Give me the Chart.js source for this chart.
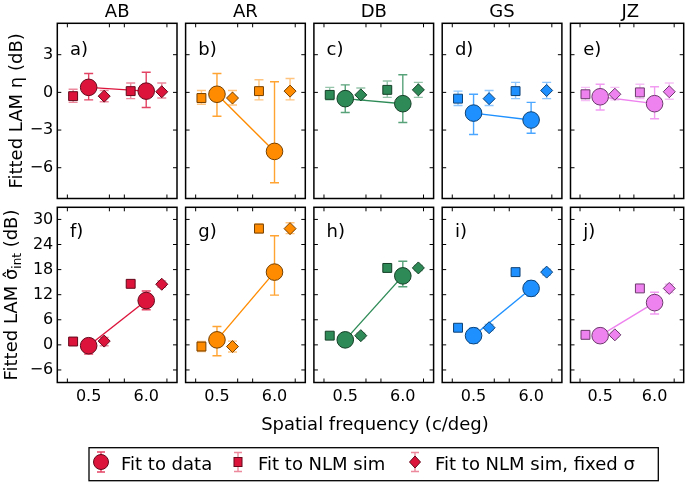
<!DOCTYPE html>
<html><head><meta charset="utf-8">
<script src="https://cdn.jsdelivr.net/npm/chart.js@4"></script>
<style>
html,body{margin:0;padding:0;background:#fff;}
#wrap{position:relative;width:693px;height:484px;overflow:hidden;background:#fff;}
#wrap canvas{position:absolute;left:0;top:0;}
#ov{position:absolute;left:0;top:0;z-index:10;font-family:'DejaVu Sans';}
</style></head><body>
<div id="wrap"><svg id="ov" width="693" height="484" xmlns="http://www.w3.org/2000/svg"></svg></div>
<script>
// ---------- data ----------
const subjects = ['AB','AR','DB','GS','JZ'];
const panelLetters = [['a)','b)','c)','d)','e)'],['f)','g)','h)','i)','j)']];
const freqLabels = ['0.5','6.0'];
const etaTicks = [-6,-3,0,3];
const sigTicks = [-6,0,6,12,18,24,30];
const legendLabels = ['Fit to data','Fit to NLM sim','Fit to NLM sim, fixed \u03c3'];

// eta (dB): circles = fit to data
const etaFit   = [[0.4,0.1],[-0.15,-4.7],[-0.5,-0.9],[-1.65,-2.2],[-0.35,-0.9]];
const etaFitLo = [[-0.6,-1.2],[-1.9,-7.2],[-1.6,-2.4],[-3.35,-3.25],[-1.4,-2.1]];
const etaFitHi = [[1.5,1.6],[1.5,0.85],[0.6,1.4],[-0.15,-0.8],[0.65,0.45]];
// squares = fit to NLM sim
const etaNlm   = [[-0.3,0.1],[-0.45,0.1],[-0.2,0.2],[-0.5,0.1],[-0.15,0.0]];
const etaNlmLo = [[-0.8,-0.5],[-0.95,-0.6],[-0.6,-0.4],[-1.05,-0.5],[-0.65,-0.5]];
const etaNlmHi = [[0.25,0.75],[0.15,1.0],[0.4,0.9],[0.1,0.8],[0.4,0.65]];
// diamonds = fit to NLM sim, fixed sigma
const etaFix   = [[-0.3,0.05],[-0.45,0.1],[-0.2,0.2],[-0.5,0.15],[-0.15,0.05]];
const etaFixLo = [[-0.75,-0.45],[-1.0,-0.6],[-0.6,-0.4],[-1.05,-0.5],[-0.6,-0.55]];
const etaFixHi = [[0.15,0.75],[0.15,1.1],[0.35,0.8],[0.15,0.8],[0.4,0.75]];

// sigma_int (dB)
const sigFit   = [[-0.2,10.6],[1.2,17.4],[1.2,16.5],[2.2,13.5],[2.2,10.1]];
const sigFitLo = [[-2.2,8.4],[-2.6,11.9],[0.2,13.9],[0.4,11.7],[0.6,7.4]];
const sigFitHi = [[1.4,12.9],[4.4,26.1],[2.2,20.0],[4.0,15.3],[3.2,12.6]];
const sigNlm   = [[0.8,14.6],[-0.4,27.8],[2.2,18.4],[4.1,17.4],[2.4,13.5]];
const sigNlmLo = [[0.2,14.0],[-1.6,26.8],[1.6,17.8],[3.3,16.8],[1.8,12.9]];
const sigNlmHi = [[1.4,15.2],[0.8,29.0],[2.8,19.0],[4.9,18.0],[3.0,14.1]];
const sigFix   = [[0.9,14.5],[-0.4,27.8],[2.2,18.4],[4.1,17.4],[2.4,13.5]];
const sigFixLo = [[-0.2,13.8],[-1.7,26.6],[1.5,17.8],[3.4,16.7],[1.8,12.5]];
const sigFixHi = [[1.8,15.3],[0.9,29.2],[2.8,19.0],[4.9,18.1],[3.0,14.5]];

// ---------- styling / layout ----------
const colors = ['#DC143C','#FF8C00','#2E8B57','#1E90FF','#EE82EE'];
const W = 693, H = 484;
const colLeft = c => 57.3 + 128.3 * c;
const panelW = 119.7;
const rowTop = [23.3, 207.3], rowBottom = [198.5, 382.5];
const yRange = [[-8.45, 5.5], [-9, 32.9]];
const xMin = -0.545, xMax = 1.535, xOff = 0.27;
const xMinorTicks = [-0.37, 0.36, 0.62, 1.36];
const FONT = "'DejaVu Sans'";
Chart.defaults.font.family = FONT;

function rgba(hex, a) {
  const n = parseInt(hex.slice(1), 16);
  return `rgba(${(n>>16)&255},${(n>>8)&255},${n&255},${a})`;
}
function darken(hex, f) {
  const n = parseInt(hex.slice(1), 16);
  return `rgb(${Math.round(((n>>16)&255)*f)},${Math.round(((n>>8)&255)*f)},${Math.round((n&255)*f)})`;
}
const minus = v => (v < 0 ? '\u2212' + Math.abs(v) : String(v));

const errorBarPlugin = {
  id: 'errbars',
  beforeDatasetsDraw(chart) {
    const ctx = chart.ctx, xs = chart.scales.x, ys = chart.scales.y;
    chart.data.datasets.forEach(ds => {
      if (!ds.errLo) return;
      ctx.save();
      ctx.strokeStyle = ds.errColor;
      ctx.lineWidth = 1.4;
      const cap = 4.5;
      ds.data.forEach((p, i) => {
        const x = xs.getPixelForValue(p.x);
        const y1 = ys.getPixelForValue(ds.errLo[i]);
        const y2 = ys.getPixelForValue(ds.errHi[i]);
        ctx.beginPath();
        ctx.moveTo(x, y1); ctx.lineTo(x, y2);
        ctx.moveTo(x - cap, y1); ctx.lineTo(x + cap, y1);
        ctx.moveTo(x - cap, y2); ctx.lineTo(x + cap, y2);
        ctx.stroke();
      });
      ctx.restore();
    });
  }
};

const framePlugin = {
  id: 'frame',
  afterDraw(chart) {
    const ctx = chart.ctx, a = chart.chartArea, xs = chart.scales.x, ys = chart.scales.y;
    const tl = 4;
    ctx.save();
    ctx.strokeStyle = '#000';
    ctx.lineWidth = 1;
    ctx.beginPath();
    chart.options.yTickVals.forEach(v => {
      const y = ys.getPixelForValue(v);
      ctx.moveTo(a.left, y); ctx.lineTo(a.left + tl, y);
      ctx.moveTo(a.right, y); ctx.lineTo(a.right - tl, y);
    });
    xMinorTicks.forEach(v => {
      const x = xs.getPixelForValue(v);
      ctx.moveTo(x, a.top); ctx.lineTo(x, a.top + tl);
      ctx.moveTo(x, a.bottom); ctx.lineTo(x, a.bottom - tl);
    });
    ctx.stroke();
    ctx.lineWidth = 1.5;
    ctx.strokeRect(a.left, a.top, a.right - a.left, a.bottom - a.top);
    ctx.restore();
  }
};

const wrap = document.getElementById('wrap');
const rows = [
  {fit: etaFit, fitLo: etaFitLo, fitHi: etaFitHi, nlm: etaNlm, nlmLo: etaNlmLo, nlmHi: etaNlmHi, fix: etaFix, fixLo: etaFixLo, fixHi: etaFixHi, ticks: etaTicks},
  {fit: sigFit, fitLo: sigFitLo, fitHi: sigFitHi, nlm: sigNlm, nlmLo: sigNlmLo, nlmHi: sigNlmHi, fix: sigFix, fixLo: sigFixLo, fixHi: sigFixHi, ticks: sigTicks}
];
const yAxisW = 30, xAxisH = 25;

rows.forEach((R, r) => {
  subjects.forEach((s, c) => {
    const cv = document.createElement('canvas');
    cv.width = W; cv.height = H;
    cv.style.width = W + 'px'; cv.style.height = H + 'px';
    wrap.insertBefore(cv, wrap.firstChild);
    const col = colors[c];
    const edge = darken(col, 0.45);
    const left = colLeft(c), right = left + panelW;
    const showY = c === 0, showX = r === 1;
    const pad = {
      left: left - (showY ? yAxisW : 0),
      right: W - right,
      top: rowTop[r],
      bottom: H - rowBottom[r] - (showX ? xAxisH : 0)
    };
    const pts = (arr, off) => arr[c].map((v, i) => ({x: i + off, y: v}));
    new Chart(cv, {
      type: 'scatter',
      data: {datasets: [
        {label: legendLabels[1], data: pts(R.nlm, -xOff), pointStyle: 'rect', pointRadius: 6.3,
          pointBackgroundColor: col, pointBorderColor: edge, pointBorderWidth: 1, showLine: false,
          errLo: R.nlmLo[c], errHi: R.nlmHi[c], errColor: rgba(col, 0.5)},
        {label: legendLabels[2], data: pts(R.fix, xOff), pointStyle: 'rectRot', pointRadius: 6,
          pointBackgroundColor: col, pointBorderColor: edge, pointBorderWidth: 1, showLine: false,
          errLo: R.fixLo[c], errHi: R.fixHi[c], errColor: rgba(col, 0.5)},
        {label: legendLabels[0], data: pts(R.fit, 0), pointStyle: 'circle', pointRadius: 8.3,
          pointBackgroundColor: col, pointBorderColor: edge, pointBorderWidth: 1,
          showLine: true, borderColor: col, borderWidth: 1.4,
          errLo: R.fitLo[c], errHi: R.fitHi[c], errColor: rgba(col, 0.8)}
      ]},
      options: {
        responsive: false, animation: false, events: [], devicePixelRatio: 1,
        yTickVals: R.ticks,
        layout: {padding: pad},
        plugins: {legend: {display: false}, tooltip: {enabled: false}},
        scales: {
          x: {type: 'linear', min: xMin, max: xMax, display: showX,
            afterFit: sc => { sc.height = showX ? xAxisH : 0; },
            afterBuildTicks: sc => { sc.ticks = freqLabels.map((_, i) => ({value: i})); },
            ticks: {callback: v => freqLabels[Math.round(v)], font: {size: 16}, color: '#000',
              padding: 5, maxRotation: 0, autoSkip: false},
            grid: {display: false, drawTicks: false}, border: {display: false}},
          y: {type: 'linear', min: yRange[r][0], max: yRange[r][1], display: showY,
            afterFit: sc => { sc.width = showY ? yAxisW : 0; },
            afterBuildTicks: sc => { sc.ticks = R.ticks.map(v => ({value: v})); },
            ticks: {callback: v => minus(v), font: {size: 16}, color: '#000', padding: 4, autoSkip: false},
            grid: {display: false, drawTicks: false}, border: {display: false}}
        }
      },
      plugins: [errorBarPlugin, framePlugin]
    });
  });
});

// ---------- overlay text ----------
const svg = document.getElementById('ov');
const NS = 'http://www.w3.org/2000/svg';
function el(tag, attrs, text) {
  const e = document.createElementNS(NS, tag);
  for (const k in attrs) e.setAttribute(k, attrs[k]);
  if (text !== undefined) e.textContent = text;
  svg.appendChild(e);
  return e;
}
subjects.forEach((s, c) => {
  el('text', {x: colLeft(c) + panelW / 2, y: 17, 'text-anchor': 'middle', 'font-size': 18}, s);
  el('text', {x: colLeft(c) + 12.7, y: rowTop[0] + 31.2, 'font-size': 18}, panelLetters[0][c]);
  el('text', {x: colLeft(c) + 12.7, y: rowTop[1] + 29.4, 'font-size': 18}, panelLetters[1][c]);
});
el('text', {transform: 'translate(21.5,110.9) rotate(-90)', 'text-anchor': 'middle', 'font-size': 18}, 'Fitted LAM \u03b7 (dB)');
const yl = el('text', {transform: 'translate(16.5,295) rotate(-90)', 'text-anchor': 'middle', 'font-size': 18});
yl.appendChild(Object.assign(document.createElementNS(NS, 'tspan'), {textContent: 'Fitted LAM \u03c3\u0302'}));
const sub = document.createElementNS(NS, 'tspan');
sub.setAttribute('font-size', 12); sub.setAttribute('dy', 4); sub.textContent = 'int';
yl.appendChild(sub);
const rest = document.createElementNS(NS, 'tspan');
rest.setAttribute('dy', -4); rest.textContent = ' (dB)';
yl.appendChild(rest);
el('text', {x: 375, y: 430, 'text-anchor': 'middle', 'font-size': 18}, 'Spatial frequency (c/deg)');

// legend
el('rect', {x: 89, y: 447.7, width: 569.3, height: 33, fill: '#fff', stroke: '#000', 'stroke-width': 1.3});
const lc = colors[0], le = darken(lc, 0.45);
function legErr(x, y1, y2, a) {
  el('path', {d: `M${x},${y1}V${y2}M${x-4},${y1}h8M${x-4},${y2}h8`, stroke: rgba(lc, a), 'stroke-width': 1.4, fill: 'none'});
}
legErr(101, 452, 472, 0.8);
el('circle', {cx: 101, cy: 462, r: 7.5, fill: lc, stroke: le, 'stroke-width': 1});
legErr(238, 452.5, 471.5, 0.5);
el('rect', {x: 234, y: 457.5, width: 8, height: 9, fill: lc, stroke: le, 'stroke-width': 1});
legErr(415, 452.5, 471.5, 0.5);
el('path', {d: 'M415,456L420.5,462L415,468L409.5,462Z', fill: lc, stroke: le, 'stroke-width': 1});
el('text', {x: 121, y: 470, 'font-size': 18}, legendLabels[0]);
el('text', {x: 258, y: 470, 'font-size': 18}, legendLabels[1]);
el('text', {x: 435, y: 470, 'font-size': 18}, legendLabels[2]);
</script>
</body></html>
